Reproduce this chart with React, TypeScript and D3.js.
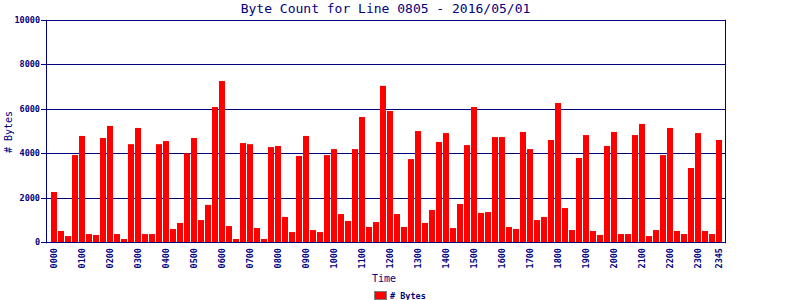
import React from "react";
import * as d3 from "d3";

const times: string[] = Array.from({ length: 96 }, (_, i) => {
  const h = Math.floor(i / 4);
  const m = (i % 4) * 15;
  return String(h).padStart(2, "0") + String(m).padStart(2, "0");
});

const bytes: number[] = [
  2260, 510, 280, 3920, 4780, 370, 330, 4690, 5230, 370, 150, 4410,
  5140, 370, 370, 4410, 4550, 600, 870, 4000, 4690, 1000, 1680, 6080,
  7250, 730, 150, 4460, 4410, 640, 150, 4280, 4330, 1140, 460, 3880,
  4780, 550, 460, 3920, 4190, 1270, 960, 4190, 5630, 690, 910, 7030,
  5900, 1270, 690, 3740, 5000, 870, 1450, 4510, 4910, 640, 1720, 4370,
  6080, 1320, 1360, 4730, 4730, 690, 600, 4960, 4190, 1000, 1140, 4600,
  6260, 1540, 550, 3790, 4820, 510, 330, 4330, 4960, 370, 370, 4820,
  5320, 280, 550, 3920, 5140, 510, 370, 3340, 4910, 510, 370, 4600,
];

const tickLabels: string[] = [
  "0000", "0100", "0200", "0300", "0400", "0500", "0600", "0700", "0800",
  "0900", "1000", "1100", "1200", "1300", "1400", "1500", "1600", "1700",
  "1800", "1900", "2000", "2100", "2200", "2300", "2345",
];

const yTicks: number[] = [0, 2000, 4000, 6000, 8000, 10000];

const NAVY = "#000080";
const MONO = "'DejaVu Sans Mono', monospace";

export default function App() {
  const W = 800, H = 300;
  const left = 46, right = 725, top = 19.8, bottom = 242.3;
  const x = d3.scaleBand<string>().domain(times).range([51, 722]).paddingInner(1 / 7).paddingOuter(0);
  const y = d3.scaleLinear().domain([0, 10000]).range([bottom, top]);

  return (
    <svg width={W} height={H} style={{ position: "absolute", left: 0, top: 0, background: "#fff" }}>
      <rect x={0} y={0} width={W} height={H} fill="#fff" />
      {/* gridlines */}
      {yTicks.map((t) => (
        <line key={"g" + t} x1={left} x2={right} y1={Math.round(y(t)) + 0.5} y2={Math.round(y(t)) + 0.5} stroke={NAVY} strokeWidth={1} />
      ))}
      {/* bars */}
      {bytes.map((v, i) => (
        <rect key={i} x={x(times[i])} y={y(v)} width={x.bandwidth()} height={bottom - y(v)} fill="#ff0000" />
      ))}
      {/* axes frame */}
      <line x1={left + 0.5} x2={left + 0.5} y1={top} y2={bottom + 1} stroke={NAVY} />
      <line x1={right + 0.5} x2={right + 0.5} y1={top} y2={bottom + 1} stroke={NAVY} />
      <line x1={left} x2={right + 1} y1={Math.round(bottom) + 0.5} y2={Math.round(bottom) + 0.5} stroke={NAVY} />
      {/* y ticks */}
      {yTicks.map((t) => (
        <g key={"y" + t}>
          <line x1={41} x2={left} y1={Math.round(y(t)) + 0.5} y2={Math.round(y(t)) + 0.5} stroke={NAVY} />
          <text x={40} y={y(t) + 3} textAnchor="end" fontFamily={MONO} fontWeight="bold" fontSize={8.5} fill={NAVY}>
            {t}
          </text>
        </g>
      ))}
      {/* x tick labels */}
      {tickLabels.map((lab) => {
        const cx = (x(lab) as number) + x.bandwidth() / 2;
        return (
          <text key={"x" + lab} transform={`translate(${cx + 3},248) rotate(-90)`} textAnchor="end" fontFamily={MONO} fontWeight="bold" fontSize={8.5} fill={NAVY}>
            {lab}
          </text>
        );
      })}
      {/* title */}
      <text x={(left + right) / 2} y={13} textAnchor="middle" fontFamily={MONO} fontSize={13} fill={NAVY}>
        Byte Count for Line 0805 - 2016/05/01
      </text>
      {/* y label */}
      <text transform={`translate(12,132) rotate(-90)`} textAnchor="middle" fontFamily={MONO} fontSize={10} fill={NAVY}>
        # Bytes
      </text>
      {/* x label */}
      <text x={384} y={282} textAnchor="middle" fontFamily={MONO} fontSize={10} fill={NAVY}>
        Time
      </text>
      {/* legend */}
      <rect x={374.5} y={291.5} width={12} height={8} fill="#ff0000" stroke="#808080" />
      <text x={390} y={298.5} fontFamily={MONO} fontWeight="bold" fontSize={8.5} fill={NAVY}>
        # Bytes
      </text>
    </svg>
  );
}
